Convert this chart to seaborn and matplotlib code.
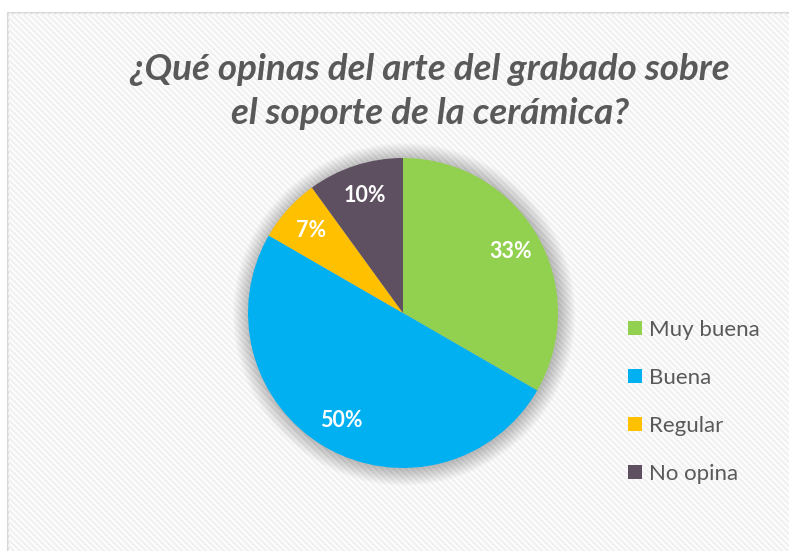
import numpy as np
import matplotlib
matplotlib.use("Agg")
import matplotlib.pyplot as plt
from matplotlib.patches import Rectangle, Circle
import seaborn as sns

sns.set_theme(style="white")
plt.rcParams["font.family"] = ["Lato", "DejaVu Sans"]

categories = ["Muy buena", "Buena", "Regular", "No opina"]
counts = [10, 15, 2, 3]
colors = ["#92d050", "#00b0f0", "#ffc000", "#5f5061"]
title_lines = ["¿Qué opinas del arte del grabado sobre", "el soporte de la cerámica?"]

W, H = 789, 551
fig = plt.figure(figsize=(W / 100, H / 100), dpi=100)
fig.patch.set_facecolor("white")

# background panel with fine diagonal stripes
bg = fig.add_axes([0, 0, 1, 1])
bg.set_xlim(0, W)
bg.set_ylim(H, 0)
bg.axis("off")
panel = Rectangle((8, 13), W + 20, H + 20, facecolor="white", edgecolor="#d9d9d9", lw=1.5)
bg.add_patch(panel)
period = 6
for c in np.arange(-W, H + period, period):
    ln, = bg.plot([0, W + 20], [c, c + W + 20], color="#f1f1f1", lw=1.8, solid_capstyle="butt")
    ln.set_clip_path(panel)

# title
for y, line in zip([70, 113], title_lines):
    bg.text(430, y, line, ha="center", va="center", fontsize=26.5,
            fontweight="bold", fontstyle="italic", color="#595959")

# legend panel
bg.add_patch(Rectangle((583, 305), 220, 190, facecolor="white", edgecolor="none", alpha=0.92))

# pie with a soft glow behind it
cx, cy, r = 403, 313, 155
ax = fig.add_axes([(cx - r) / W, (H - cy - r) / H, 2 * r / W, 2 * r / H])
for k in range(16):
    ax.add_patch(Circle((0.008, -0.008), 1.0 + 0.007 * k, facecolor="#000000",
                        alpha=0.014, edgecolor="none", clip_on=False, zorder=0))
wedges, texts, autotexts = ax.pie(
    counts, colors=colors, startangle=90, counterclock=False, radius=1,
    autopct=lambda p: f"{p:.0f}%", pctdistance=0.8,
    wedgeprops=dict(edgecolor="none"),
    textprops=dict(color="white", fontsize=15.5, fontweight="bold"))
ax.set_xlim(-1, 1)
ax.set_ylim(-1, 1)
ax.axis("off")
for w in wedges:
    w.set_zorder(2)
for t in autotexts:
    t.set_zorder(3)

leg = fig.legend(wedges, categories, loc="upper left",
                 bbox_to_anchor=(608 / W, 1 - 300 / H), frameon=False,
                 fontsize=16, labelcolor="#595959", handlelength=0.63,
                 handleheight=0.63, handletextpad=0.3, labelspacing=1.26)

fig.savefig("out.png", dpi=100)
